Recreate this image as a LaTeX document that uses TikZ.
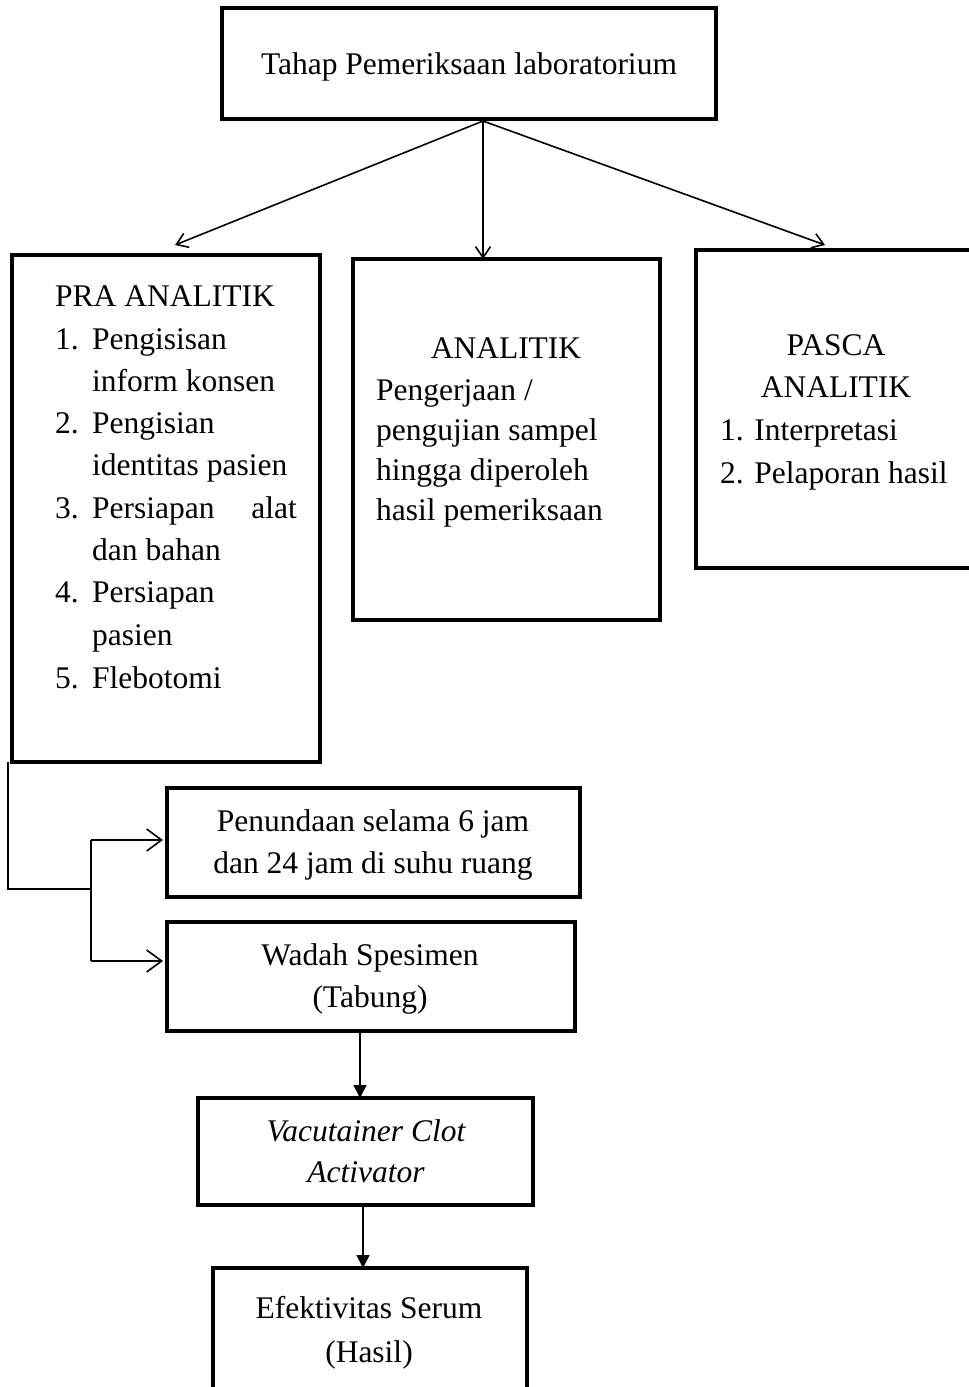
\documentclass[tikz,border=0pt]{standalone}
\usepackage{fontspec}
\setmainfont{Liberation Serif}
\usetikzlibrary{arrows.meta}
\begin{document}
\begin{tikzpicture}[x=1pt,y=-1pt,
  box/.style={draw, line width=4pt, inner sep=0pt, outer sep=0pt},
  txt/.style={font=\fontsize{31.5}{42}\selectfont, inner sep=0pt, anchor=base},
  txtl/.style={txt, anchor=base west},
  conn/.style={line width=1.6pt},
  openarrow/.style={conn, -{Straight Barb[length=11pt,width=15pt,line width=1.6pt]}},
  sidearrow/.style={conn, -{Straight Barb[length=15pt,width=22pt,line width=1.6pt]}},
  fillarrow/.style={conn, -{Triangle[length=13pt,width=13pt]}}]
\useasboundingbox (0,0) rectangle (969,1387);
% boxes
\node[box, minimum width=494pt, minimum height=111pt] (top) at (469,63.5) {};
\node[box, minimum width=308pt, minimum height=507pt] (pra) at (166,508.5) {};
\node[box, minimum width=307pt, minimum height=361pt] (ana) at (506.5,439.5) {};
\node[box, minimum width=294pt, minimum height=318pt] (pas) at (843,409) {};
\node[box, minimum width=413pt, minimum height=109pt] (pen) at (373.5,842.5) {};
\node[box, minimum width=408pt, minimum height=109pt] (wad) at (371,976.5) {};
\node[box, minimum width=335pt, minimum height=107pt] (vac) at (365.5,1151.5) {};
\node[box, minimum width=314pt, minimum height=132pt] (efe) at (370,1334) {};
% texts
\node[txt] (t0) at (469,74) {Tahap Pemeriksaan laboratorium};
\node[txtl] (p0) at (55,306) {PRA ANALITIK};
\node[txtl] (p1n) at (55,349) {1.};
\node[txtl] (p1) at (92,349) {Pengisisan};
\node[txtl] (p1b) at (92,391) {inform konsen};
\node[txtl] (p2n) at (55,433) {2.};
\node[txtl] (p2) at (92,433) {Pengisian};
\node[txtl] (p2b) at (92,475) {identitas pasien};
\node[txtl] (p3n) at (55,518) {3.};
\node[txtl] (p3) at (92,518) {Persiapan};
\node[txt, anchor=base east] (p3r) at (297,518) {alat};
\node[txtl] (p3b) at (92,560) {dan bahan};
\node[txtl] (p4n) at (55,602) {4.};
\node[txtl] (p4) at (92,602) {Persiapan};
\node[txtl] (p4b) at (92,645) {pasien};
\node[txtl] (p5n) at (55,688) {5.};
\node[txtl] (p5) at (92,688) {Flebotomi};
\node[txt] (a0) at (506,358) {ANALITIK};
\node[txtl] (a1) at (376,400) {Pengerjaan /};
\node[txtl] (a2) at (376,440) {pengujian sampel};
\node[txtl] (a3) at (376,480) {hingga diperoleh};
\node[txtl] (a4) at (376,520) {hasil pemeriksaan};
\node[txt] (s0) at (836,355) {PASCA};
\node[txt] (s1) at (836,397) {ANALITIK};
\node[txtl] (s2) at (720,440) {1. Interpretasi};
\node[txtl] (s3) at (720,483) {2. Pelaporan hasil};
\node[txt] (n1) at (373,831) {Penundaan selama 6 jam};
\node[txt] (n2) at (373,873) {dan 24 jam di suhu ruang};
\node[txt] (w1) at (370,965) {Wadah Spesimen};
\node[txt] (w2) at (370,1007) {(Tabung)};
\node[txt] (v1) at (366,1141) {\itshape Vacutainer Clot};
\node[txt] (v2) at (366,1182) {\itshape Activator};
\node[txt] (e1) at (369,1318) {Efektivitas Serum};
\node[txt] (e2) at (369,1362) {(Hasil)};
% coordinates
\coordinate (src) at (483,121);
\coordinate (praIn) at (175,245);
\coordinate (pasIn) at (825,245);
\coordinate (bl) at (8,762);
\coordinate (bc) at (8,889);
\coordinate (jm) at (91,889);
\coordinate (j1) at (91,840);
\coordinate (j2) at (91,961);
\coordinate (x1) at (360,0);
\coordinate (x2) at (363,0);
% connectors
\draw[openarrow] (src) -- (praIn);
\draw[openarrow] (src) -- (src |- ana.north);
\draw[openarrow] (src) -- (pasIn);
\draw[conn] (bl) -- (bc) -- (jm);
\draw[conn] (j1) -- (j2);
\draw[sidearrow, shorten >=4pt] (j1) -- (pen.west |- j1);
\draw[sidearrow, shorten >=4pt] (j2) -- (wad.west |- j2);
\draw[fillarrow] (wad.south -| x1) -- (vac.north -| x1);
\draw[fillarrow] (vac.south -| x2) -- (efe.north -| x2);
\end{tikzpicture}
\end{document}
